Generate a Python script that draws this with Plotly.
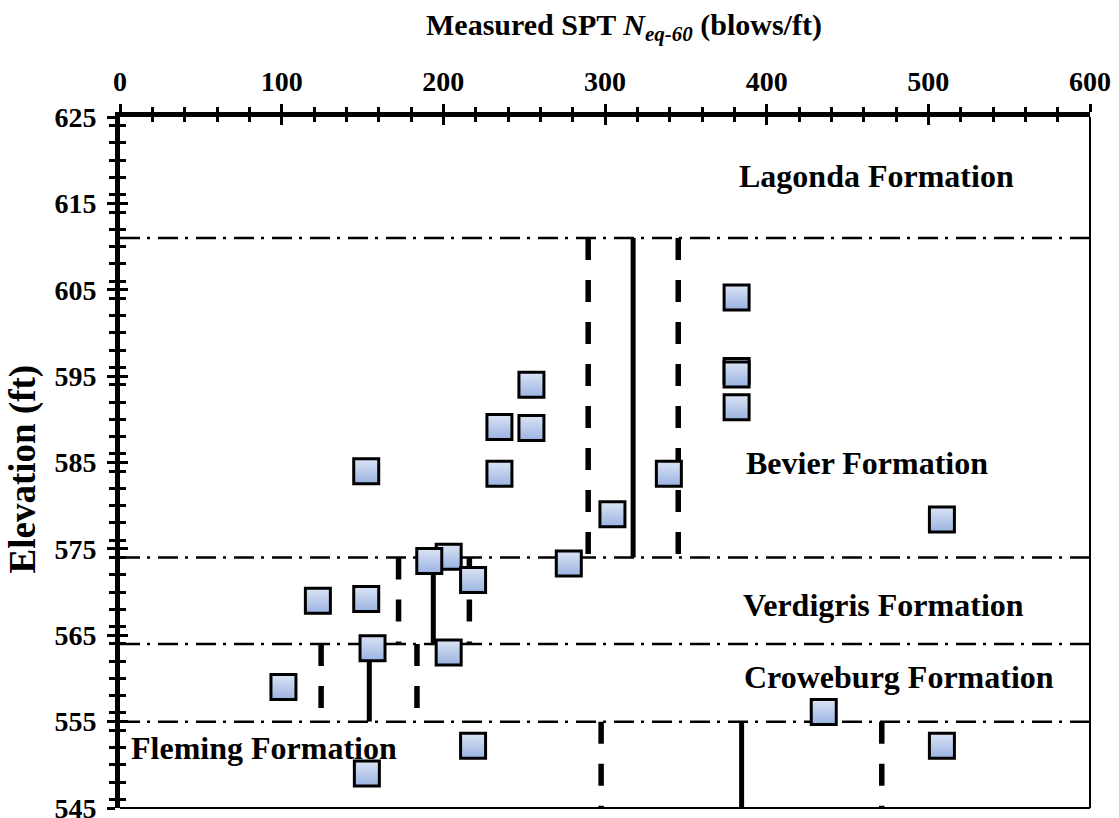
import plotly.graph_objects as go

# SPT blow counts (N_eq-60, blows/ft) and sample elevations (ft)
n_eq60 = [381.4, 381.4, 381.4, 381.4, 254.5, 234.7, 254.5, 152.3, 234.7, 339.5, 304.6, 508.4,
          277.6, 203.3, 191.3, 218.4, 122.4, 152.3, 156.2, 203.3, 101.1, 435.3, 218.4, 508.4, 152.7]
elevation = [604.1, 595.6, 595.2, 591.4, 594.0, 589.1, 589.0, 584.0, 583.7, 583.7, 579.0, 578.4,
             573.3, 574.1, 573.6, 571.4, 569.0, 569.2, 563.5, 563.0, 559.0, 556.1, 552.2, 552.2, 549.0]

# Formation boundaries (ft)
boundaries = [611.0, 574.0, 564.0, 555.0]

# Per-formation mean and bounds of N_eq-60, with their elevation spans
stat_formations = ["Bevier", "Verdigris", "Croweburg", "Fleming"]
stat_top = [611.0, 574.0, 564.0, 555.0]
stat_bottom = [574.0, 564.0, 555.0, 545.0]
stat_mean = [317.4, 193.8, 154.2, 384.5]
stat_lower = [289.6, 172.3, 124.4, 297.6]
stat_upper = [345.3, 216.1, 183.7, 471.2]

# Formation labels and where they sit
formation_names = ["Lagonda Formation", "Bevier Formation", "Verdigris Formation",
                   "Croweburg Formation", "Fleming Formation"]
label_x = [468.1, 461.9, 472.4, 481.7, 89.2]
label_y = [618.2, 584.9, 568.5, 560.2, 551.9]

x_range = [0, 600]
y_range = [545, 625]
x_ticks = [0, 100, 200, 300, 400, 500, 600]
y_ticks = [545, 555, 565, 575, 585, 595, 605, 615, 625]

FONT = "Liberation Serif"

fig = go.Figure()

# formation boundaries (dash-dot)
for b in boundaries:
    fig.add_trace(go.Scatter(
        x=x_range, y=[b, b], mode="lines", hoverinfo="skip", showlegend=False,
        line=dict(color="black", width=2.5, dash="20px,7px,3px,8px")))

# mean (solid) and bounds (dashed) per formation
for top, bot, m, lo, hi in zip(stat_top, stat_bottom, stat_mean, stat_lower, stat_upper):
    for xv in (lo, hi):
        fig.add_trace(go.Scatter(
            x=[xv, xv], y=[top, bot], mode="lines", hoverinfo="skip", showlegend=False,
            line=dict(color="black", width=5.5, dash="22px,20px")))
    fig.add_trace(go.Scatter(
        x=[m, m], y=[top, bot], mode="lines", hoverinfo="skip", showlegend=False,
        line=dict(color="black", width=5)))

# measured points
fig.add_trace(go.Scatter(
    x=n_eq60, y=elevation, mode="markers", showlegend=False,
    marker=dict(symbol="square", size=25, color="#dbe4f4",
                line=dict(color="black", width=3),
                gradient=dict(type="vertical", color="#9ab3e2"))))

# helper trace for the overlay axes that carry the inward tick marks
fig.add_trace(go.Scatter(x=[None], y=[None], xaxis="x2", yaxis="y2",
                         showlegend=False, hoverinfo="skip"))

for name, lx, ly in zip(formation_names, label_x, label_y):
    fig.add_annotation(x=lx, y=ly, text=name, showarrow=False,
                       xanchor="center", yanchor="middle",
                       font=dict(family=FONT, size=32, color="black", weight="bold"))

fig.add_annotation(xref="paper", yref="paper", x=0.52, y=1.13,
                   text="Measured SPT <i>N</i><sub><i>eq-60</i></sub> (blows/ft)",
                   showarrow=False, xanchor="center", yanchor="middle",
                   font=dict(family=FONT, size=30, color="black", weight="bold"))
fig.add_annotation(xref="paper", yref="paper", x=-0.1, y=0.49,
                   text="Elevation (ft)", textangle=-90,
                   showarrow=False, xanchor="center", yanchor="middle",
                   font=dict(family=FONT, size=37, color="black", weight="bold"))

# thin right and bottom frame
fig.add_shape(type="line", xref="paper", yref="paper", x0=1, x1=1, y0=0, y1=1,
              line=dict(color="black", width=2))
fig.add_shape(type="line", xref="paper", yref="paper", x0=0, x1=1, y0=0, y1=0,
              line=dict(color="black", width=2))

tickfont = dict(family=FONT, size=28, color="black", weight="bold")

fig.update_layout(
    width=1119, height=818,
    margin=dict(l=120, r=29, t=117, b=10),
    paper_bgcolor="white", plot_bgcolor="white",
    xaxis=dict(range=x_range, side="top", tickvals=x_ticks, showgrid=False, zeroline=False,
               showline=True, linecolor="black", linewidth=5, automargin=False,
               ticks="outside", ticklen=8, tickwidth=3, tickcolor="black",
               minor=dict(dtick=20, ticks="outside", ticklen=5, tickwidth=3, tickcolor="black"),
               tickfont=tickfont, ticklabelstandoff=2, ticklabeloverflow="allow"),
    yaxis=dict(range=y_range, tickvals=y_ticks, showgrid=False, zeroline=False,
               showline=True, linecolor="black", linewidth=5, automargin=False,
               ticks="outside", ticklen=8, tickwidth=3, tickcolor="black",
               minor=dict(dtick=2, ticks="outside", ticklen=6, tickwidth=3, tickcolor="black"),
               tickfont=tickfont, ticklabelstandoff=5, ticklabeloverflow="allow"),
    xaxis2=dict(range=x_range, overlaying="x", side="top", tickvals=x_ticks, automargin=False,
                showgrid=False, zeroline=False, showline=False, showticklabels=False,
                ticks="inside", ticklen=8, tickwidth=3, tickcolor="black",
                minor=dict(dtick=20, ticks="inside", ticklen=5, tickwidth=3, tickcolor="black")),
    yaxis2=dict(range=y_range, overlaying="y", side="left", tickvals=y_ticks, automargin=False,
                showgrid=False, zeroline=False, showline=False, showticklabels=False,
                ticks="inside", ticklen=8, tickwidth=3, tickcolor="black",
                minor=dict(dtick=2, ticks="inside", ticklen=6, tickwidth=3, tickcolor="black")),
)

fig.write_html("out.html")
